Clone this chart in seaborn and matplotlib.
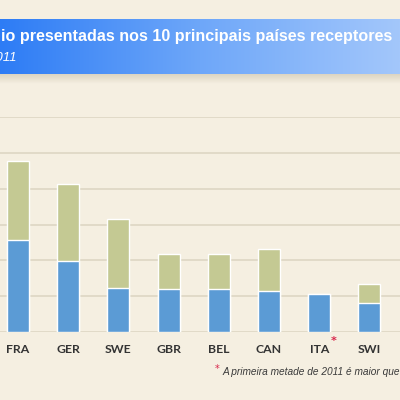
import numpy as np
import pandas as pd
import matplotlib.pyplot as plt
import seaborn as sns
from matplotlib.colors import LinearSegmentedColormap

# pedidos (milhares) - leitura aproximada do grafico
countries = ["FRA", "GER", "SWE", "GBR", "BEL", "CAN", "ITA", "SWI"]
first_half = [25.8, 19.7, 12.3, 11.9, 11.9, 11.4, 10.7, 8.1]
total = [47.8, 41.3, 31.5, 21.7, 21.7, 23.2, 10.7, 13.4]
y_ticks = [0, 10, 20, 30, 40, 50, 60]

title = "io presentadas nos 10 principais países receptores"
subtitle = "2011"
note = "A primeira metade de 2011 é maior que"

bg = "#f5efe1"
sns.set_style("white", {"axes.facecolor": bg, "figure.facecolor": bg})

fig = plt.figure(figsize=(4, 4), dpi=100)
fig.patch.set_facecolor(bg)

df = pd.DataFrame({"pais": countries, "total": total, "primeira": first_half})

ax = fig.add_axes([0, 0.17, 1, 0.5375])
sns.barplot(data=df, x="pais", y="total", order=countries, color="#c4c993",
            width=0.44, saturation=1, ax=ax)
sns.barplot(data=df, x="pais", y="primeira", order=countries, color="#5b9bd5",
            width=0.44, saturation=1, ax=ax)

ax.set_ylim(0, 60)
ax.set_xlim(-0.36, 7.61)
ax.set_yticks(y_ticks)
ax.yaxis.grid(True, color="#ddd6c4", lw=1.2)
ax.set_axisbelow(True)
ax.tick_params(axis="y", left=False, labelleft=False)
ax.tick_params(axis="x", bottom=False, pad=5)
for lab in ax.get_xticklabels():
    lab.set_fontfamily("Lato")
    lab.set_fontweight("bold")
    lab.set_fontsize(8.8)
    lab.set_color("#333333")
for s in ax.spines.values():
    s.set_visible(False)
ax.set_xlabel("")
ax.set_ylabel("")

# sombra da faixa do titulo
sh = fig.add_axes([0, 1 - 84 / 400, 1, 10 / 400])
shade = np.zeros((20, 2, 4))
shade[..., :3] = np.array([0.72, 0.68, 0.58])
shade[..., 3] = np.linspace(0.4, 0, 20)[:, None]
sh.imshow(shade, aspect="auto", extent=[0, 1, 0, 1])
sh.axis("off")

# faixa azul do titulo
bax = fig.add_axes([0, 1 - 74 / 400, 1, 55 / 400])
grad = np.linspace(0, 1, 256).reshape(1, -1)
cmap = LinearSegmentedColormap.from_list("faixa", ["#2d7cf5", "#6ea7f9", "#a3c7fb"])
bax.imshow(grad, aspect="auto", cmap=cmap, extent=[0, 1, 0, 1])
bax.axis("off")

fig.text(392 / 400, 1 - 37 / 400, title, ha="right", va="center", color="white",
         fontsize=11.6, fontweight="bold", family="Liberation Sans")
fig.text(17 / 400, 1 - 58 / 400, subtitle, ha="right", va="center", color="white",
         fontsize=9.5, style="italic", family="Liberation Sans")

# asterisco no ITA e nota de rodape
fig.text(334 / 400, 1 - 341 / 400, "*", ha="center", va="center", color="#d8254a",
         fontsize=8, fontweight="bold")
fig.text(217 / 400, 1 - 369 / 400, "*", ha="center", va="center", color="#d8254a",
         fontsize=7)
fig.text(223 / 400, 1 - 372 / 400, note, ha="left", va="center", color="#3a3a3a",
         fontsize=7.3, style="italic", family="Liberation Sans")

fig.savefig("out.png", dpi=100, facecolor=bg)
